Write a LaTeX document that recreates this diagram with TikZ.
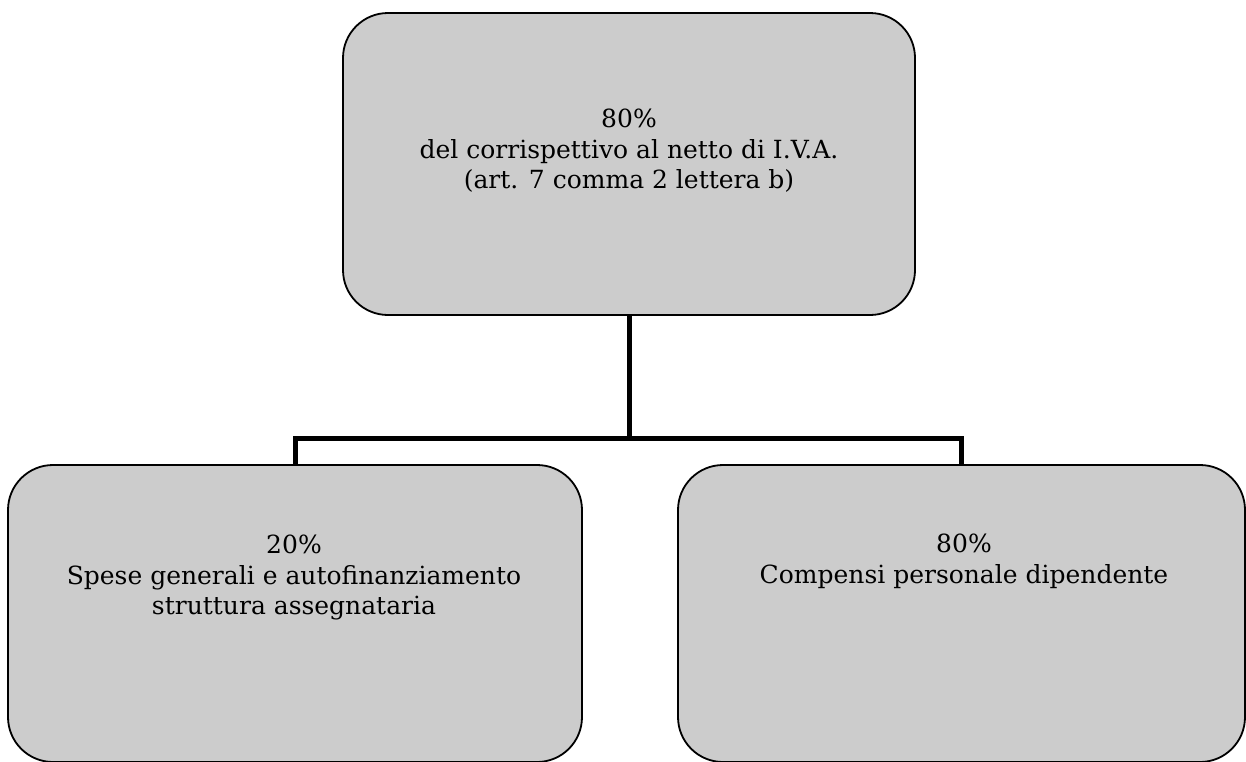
\documentclass[tikz,border=0pt]{standalone}
\usepackage{fontspec}
\setmainfont{DejaVu Serif}
\definecolor{boxfill}{RGB}{204,204,204}
\tikzset{
  box/.style={draw=black, line width=1.8pt, fill=boxfill, rounded corners=45pt, rectangle, inner sep=0pt},
  boxtext/.style={align=center, inner sep=0pt, anchor=north, font=\fontsize{25pt}{30.5pt}\selectfont},
  conn/.style={draw=black, line width=5pt}
}
\begin{document}
\begin{tikzpicture}[x=1pt,y=-1pt]
\useasboundingbox (0,0) rectangle (1246,761);
\node[box, minimum width=572pt, minimum height=302pt] (top) at (629,164) {};
\node[box, minimum width=574pt, minimum height=297pt] (left) at (295,613.5) {};
\node[box, minimum width=567pt, minimum height=297pt] (right) at (961.5,613.5) {};
\coordinate (bus) at (629,438);
\draw[conn] (top.south) -- (bus) -| (left.north);
\draw[conn] (bus) -| (right.north);
\node[boxtext] (toptext) at (629,109) {80\%\\del corrispettivo al netto di I.V.A.\\(art. 7 comma 2 lettera b)};
\node[boxtext] (lefttext) at (294,535) {20\%\\Spese generali e autofinanziamento\\struttura assegnataria};
\node[boxtext] (righttext) at (964,534) {80\%\\Compensi personale dipendente};
\end{tikzpicture}
\end{document}
